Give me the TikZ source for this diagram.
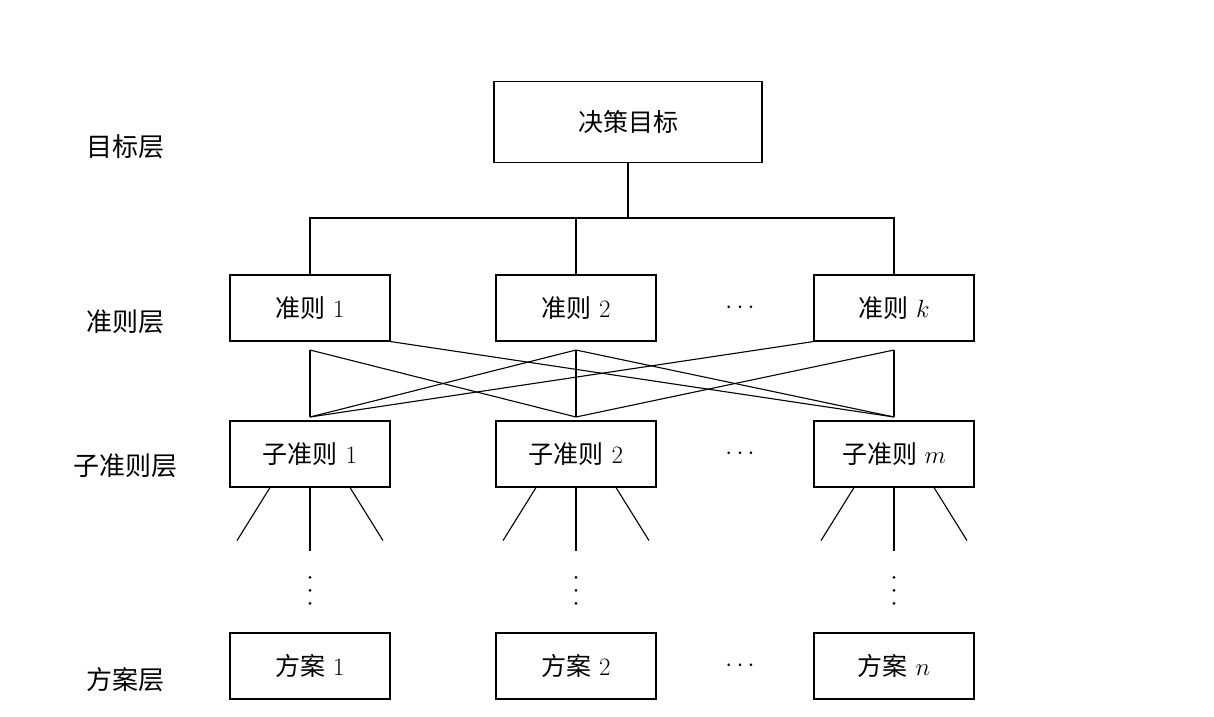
\documentclass[tikz,border=0pt]{standalone}
\usepackage{fontspec}
\newfontfamily\cjk{Noto Sans CJK SC}
\begin{document}
\begin{tikzpicture}[x=1pt,y=-1pt,line width=1.1pt,
  box/.style={draw,minimum width=160pt,minimum height=66pt,font=\fontsize{25}{29}\selectfont,inner sep=0pt},
  lab/.style={font=\cjk\fontsize{26}{30}\selectfont},
  dots/.style={font=\fontsize{25}{29}\selectfont}]
\useasboundingbox (0,0) rectangle (1214,716);
\node[box,minimum width=268pt,minimum height=81pt] (g) at (628,122) {{\cjk 决策目标}};
\node[box] (c1) at (310,308) {{\cjk 准则} 1};
\node[box] (c2) at (576,308) {{\cjk 准则} 2};
\node[box] (ck) at (894,308) {{\cjk 准则} $k$};
\node[box] (s1) at (310,454) {{\cjk 子准则} 1};
\node[box] (s2) at (576,454) {{\cjk 子准则} 2};
\node[box] (sm) at (894,454) {{\cjk 子准则} $m$};
\node[box] (a1) at (310,666) {{\cjk 方案} 1};
\node[box] (a2) at (576,666) {{\cjk 方案} 2};
\node[box] (an) at (894,666) {{\cjk 方案} $n$};
\node[lab] (l1) at (125,147) {目标层};
\node[lab] (l2) at (125,322) {准则层};
\node[lab] (l3) at (125,466) {子准则层};
\node[lab] (l4) at (125,680) {方案层};
\node[dots] (d1) at (740,308) {$\cdots$};
\node[dots] (d2) at (740,454) {$\cdots$};
\node[dots] (d3) at (740,666) {$\cdots$};
% tree from goal
\coordinate (h) at (628,218);
\draw (g.south) -- (h);
\draw (c1.north) |- (h) -| (ck.north);
\draw (c2.north) -- (c2.north |- h);
% crossing network
\foreach \x/\n in {310/1,576/2,894/3}{
  \coordinate (t\n) at (\x,350);
  \coordinate (b\n) at (\x,417);
}
\draw (t1)--(b1) (t2)--(b2) (t3)--(b3);
\draw (t1)--(b2)--(t3);
\draw (b1)--(t2)--(b3);
\draw (c1.south east) -- (b3);
\draw (ck.south west) -- (b1);
% fans under sub-criteria
\foreach \s in {s1,s2,sm}{
  \draw ([xshift=-40pt]\s.south) -- ([xshift=-73pt,yshift=-53pt]\s.south);
  \draw (\s.south) -- ([yshift=-63pt]\s.south);
  \draw ([xshift=40pt]\s.south) -- ([xshift=73pt,yshift=-53pt]\s.south);
}
\foreach \a in {a1,a2,an}{
  \foreach \d in {55,42,29}
    \fill ([yshift=\d pt]\a.north) circle (1.5pt);
}
\end{tikzpicture}
\end{document}
